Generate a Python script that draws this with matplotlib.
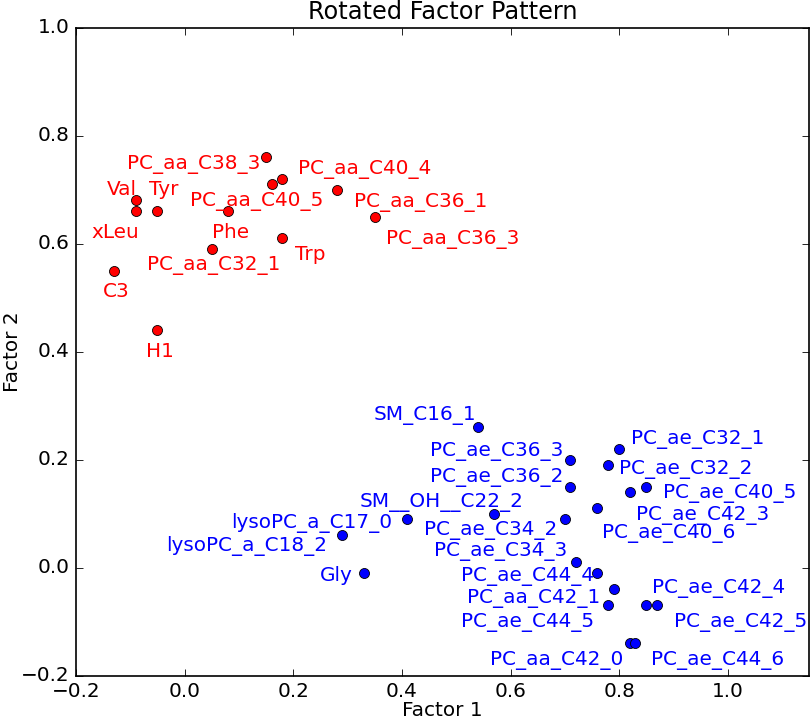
# ============================================
# Importando a biblioteca matplotlib
# ============================================

import matplotlib
matplotlib.use("Agg")
import matplotlib.pyplot as plt

# ============================================
# Dados (cargas dos fatores)
# ============================================

# Grupo vermelho
nomes_vermelho = [
    "PC_aa_C38_3", "PC_aa_C40_4", "PC_aa_C40_5", "PC_aa_C36_1",
    "PC_aa_C36_3", "Val", "Tyr", "xLeu", "Phe", "Trp",
    "PC_aa_C32_1", "C3", "H1"
]
fator1_vermelho = [0.15, 0.18, 0.16, 0.28, 0.35, -0.09, -0.05, -0.09,
                   0.08, 0.18, 0.05, -0.13, -0.05]
fator2_vermelho = [0.76, 0.72, 0.71, 0.70, 0.65, 0.68, 0.66, 0.66,
                   0.66, 0.61, 0.59, 0.55, 0.44]

# Grupo azul
nomes_azul = [
    "SM_C16_1", "PC_ae_C36_3", "PC_ae_C36_2", "SM__OH__C22_2",
    "lysoPC_a_C17_0", "lysoPC_a_C18_2", "Gly", "PC_ae_C34_2",
    "PC_ae_C34_3", "PC_ae_C40_6", "PC_ae_C32_1", "PC_ae_C32_2",
    "PC_ae_C42_3", "PC_ae_C40_5", "PC_ae_C44_4", "PC_aa_C42_1",
    "PC_ae_C44_5", "PC_ae_C42_4", "PC_ae_C42_5", "PC_aa_C42_0",
    "PC_ae_C44_6"
]
fator1_azul = [0.54, 0.71, 0.71, 0.57, 0.41, 0.29, 0.33, 0.70,
               0.72, 0.76, 0.80, 0.78, 0.82, 0.85, 0.76, 0.79,
               0.78, 0.85, 0.87, 0.82, 0.83]
fator2_azul = [0.26, 0.20, 0.15, 0.10, 0.09, 0.06, -0.01, 0.09,
               0.01, 0.11, 0.22, 0.19, 0.14, 0.15, -0.01, -0.04,
               -0.07, -0.07, -0.07, -0.14, -0.14]

# ============================================
# Posição dos rótulos (alinhamento e deslocamento em pixels)
# ============================================

rotulos_vermelho = [
    ("right", -6, -12), ("left", 16, 5), ("center", -15, -22),
    ("left", 17, -17), ("left", 11, -27), ("right", 1, 5),
    ("left", -8, 16), ("right", 3, -27), ("center", 2, -27),
    ("left", 13, -22), ("center", 2, -21), ("center", 2, -26),
    ("center", 2, -27)
]
rotulos_azul = [
    ("right", -2, 7), ("right", -7, 4), ("right", -7, 5),
    ("left", -135, 7), ("right", -15, -9), ("right", -15, -16),
    ("right", -11, -8), ("right", -8, -16), ("right", -8, 6),
    ("left", 5, -30), ("left", 12, 5), ("left", 11, -9),
    ("left", 6, -28), ("left", 17, -11), ("right", -3, -8),
    ("right", -14, -14), ("right", -14, -22), ("left", 6, 12),
    ("left", 17, -22), ("right", -7, -22), ("left", 16, -22)
]

# ============================================
# Criando o gráfico
# ============================================

plt.style.use("classic")
dpi = 120
fig = plt.figure(figsize=(812 / dpi, 722 / dpi), dpi=dpi, facecolor="white")
ax = fig.add_axes([0.0936, 0.0641, 0.9031, 0.8978])

ax.plot(fator1_vermelho, fator2_vermelho, "o", color="r",
        markeredgecolor="k", markeredgewidth=0.5, markersize=6)
ax.plot(fator1_azul, fator2_azul, "o", color="b",
        markeredgecolor="k", markeredgewidth=0.5, markersize=6)

# Escreve o nome de cada ponto
px = 72.0 / dpi
for nomes, xs, ys, rotulos, cor in [
    (nomes_vermelho, fator1_vermelho, fator2_vermelho, rotulos_vermelho, "r"),
    (nomes_azul, fator1_azul, fator2_azul, rotulos_azul, "b"),
]:
    for nome, x, y, (ha, dx, dy) in zip(nomes, xs, ys, rotulos):
        ax.annotate(nome, (x, y), xytext=(dx * px, dy * px),
                    textcoords="offset points", ha=ha, va="baseline",
                    color=cor, fontsize=12)

# ============================================
# Personalizando o gráfico
# ============================================

ax.set_xlim(-0.2, 1.15)
ax.set_ylim(-0.2, 1.0)
ax.set_xticks([-0.2, 0.0, 0.2, 0.4, 0.6, 0.8, 1.0])
ax.set_title("Rotated Factor Pattern")
ax.set_xlabel("Factor 1", labelpad=0)
ax.set_ylabel("Factor 2", labelpad=-1)

fig.savefig("out.png", dpi=dpi, facecolor="white")
